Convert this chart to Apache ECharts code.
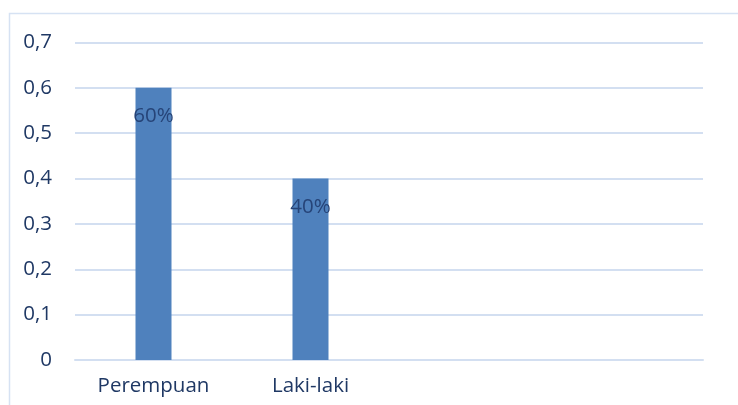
<!DOCTYPE html>
<html><head><meta charset="utf-8">
<script src="https://cdn.jsdelivr.net/npm/echarts@6/dist/echarts.min.js"></script>
<style>html,body{margin:0;padding:0;background:#fff}#c{width:738px;height:405px}</style>
</head><body><div id="c"></div>
<script>
const categories = ['Perempuan', 'Laki-laki', '', ' '];
const values = [0.6, 0.4, null, null];
const labels = ['60%', '40%', '', ''];
const yTicks = [0, 0.1, 0.2, 0.3, 0.4, 0.5, 0.6, 0.7];

const chart = echarts.init(document.getElementById('c'), null, {renderer: 'canvas'});
const font = 'Open Sans';
chart.setOption({
  animation: false,
  backgroundColor: '#fff',
  graphic: [{
    type: 'rect', silent: true, z: -1,
    shape: {x: 9.5, y: 13.5, width: 800, height: 500},
    style: {fill: 'none', stroke: '#D6E2F3', lineWidth: 1.5}
  }],
  grid: {left: 75, right: 35, top: 42.5, bottom: 45, containLabel: false},
  xAxis: {
    type: 'category', data: categories,
    axisLine: {show: true, lineStyle: {color: '#D3DFF1', width: 2}},
    axisTick: {show: false},
    axisLabel: {color: '#1F3864', fontFamily: font, fontSize: 20.5, margin: 16}
  },
  yAxis: {
    type: 'value', min: 0, max: 0.7, interval: 0.1,
    axisLine: {show: false}, axisTick: {show: false},
    splitLine: {lineStyle: {color: '#D3DFF1', width: 2}},
    axisLabel: {
      color: '#1F3864', fontFamily: font, fontSize: 20.5, margin: 23,
      formatter: v => { const t = yTicks.find(x => Math.abs(x - v) < 1e-9); return (t === undefined ? v : t).toString().replace('.', ','); }
    }
  },
  series: [{
    type: 'bar', data: values, barWidth: 36,
    itemStyle: {color: '#4F81BD'},
    label: {
      show: true, position: 'insideTop', distance: 18,
      color: '#264478', fontFamily: font, fontSize: 20.5,
      formatter: p => labels[p.dataIndex]
    }
  }]
});
</script></body></html>
